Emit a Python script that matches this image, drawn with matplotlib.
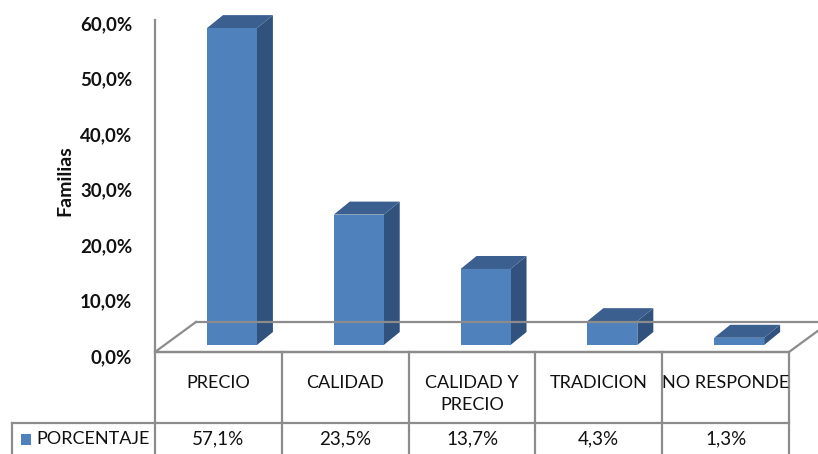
import matplotlib.pyplot as plt
from matplotlib.patches import Polygon, Rectangle

categories = ["PRECIO", "CALIDAD", "CALIDAD Y\nPRECIO", "TRADICION", "NO RESPONDE"]
values = [57.1, 23.5, 13.7, 4.3, 1.3]
value_labels = ["57,1%", "23,5%", "13,7%", "4,3%", "1,3%"]
series_name = "PORCENTAJE"
y_ticks = [0, 10, 20, 30, 40, 50, 60]

plt.rcParams['font.family'] = ['Lato', 'DejaVu Sans']

FRONT = "#4f81bd"
SIDE = "#31527d"
TOP = "#3b5f8e"
GRID = "#8c8c8c"
TEXT = "#111111"

fig = plt.figure(figsize=(8.18, 4.54), dpi=100)
ax = fig.add_axes([0.18949, 0.21586, 0.77506, 0.74570])
ax.set_xlim(0, 5)
ax.set_ylim(0, 61)

# value axis
for s in ["top", "right", "bottom"]:
    ax.spines[s].set_visible(False)
ax.spines["left"].set_color(GRID)
ax.spines["left"].set_linewidth(1.6)
ax.spines["left"].set_bounds(0.72, 60.54)
ax.set_xticks([])
ax.set_yticks(y_ticks)
ax.set_yticklabels([f"{t:.1f}%".replace(".", ",") for t in y_ticks],
                   fontsize=13.5, fontweight="bold", color=TEXT)
ax.tick_params(axis="y", length=0, pad=16.5)
ax.set_ylabel("Familias", fontsize=14, fontweight="bold", color=TEXT)
ax.yaxis.set_label_coords(-0.128, 0.517)

# floor of the 3D plot
floor_y = 0.72
floor_dx, floor_dy = 0.323, 5.41
back_y = floor_y + floor_dy
ax.plot([floor_dx, 0, 5.0, 5.0 + floor_dx * 1.5],
        [back_y, floor_y, floor_y, floor_y + floor_dy * 1.5],
        color=GRID, linewidth=1.6, clip_on=False)
ax.plot([floor_dx, 5.6], [back_y, back_y], color=GRID, linewidth=1.6, clip_on=False)

# 3D bars: right side, top, front face
bar_w = 0.394
bar_off = 0.41
base = 1.98
bdx, bdy = 0.126, 2.34
for i, v in enumerate(values):
    x0 = i + bar_off
    x1 = x0 + bar_w
    y1 = base + v
    ax.add_patch(Polygon([(x1, base), (x1 + bdx, base + bdy), (x1 + bdx, y1 + bdy), (x1, y1)],
                         facecolor=SIDE, edgecolor="none", clip_on=False))
    ax.add_patch(Polygon([(x0, y1), (x1, y1), (x1 + bdx, y1 + bdy), (x0 + bdx, y1 + bdy)],
                         facecolor=TOP, edgecolor="none", clip_on=False))
    ax.add_patch(Rectangle((x0, base), bar_w, v, facecolor=FRONT,
                           edgecolor="none", clip_on=False))

# data table under the plot (y in pixels below the floor)
tab = fig.add_axes([0.18949, 0.0, 0.77506, 102 / 454])
tab.set_xlim(0, 5)
tab.set_ylim(102, 0)
tab.axis("off")
lw = 1.6
for c in range(6):
    tab.plot([c, c], [0, 110], color=GRID, linewidth=lw, clip_on=False)
tab.plot([0, 5], [0, 0], color=GRID, linewidth=lw, clip_on=False)
tab.plot([-1.128, 5], [71, 71], color=GRID, linewidth=lw, clip_on=False)
tab.plot([-1.128, -1.128], [71, 110], color=GRID, linewidth=lw, clip_on=False)

for i, (cat, lab) in enumerate(zip(categories, value_labels)):
    tab.text(i + 0.5, 23, cat, ha="center", va="top", fontsize=13,
             color=TEXT, linespacing=1.45, clip_on=False)
    tab.text(i + 0.5, 87, lab, ha="center", va="center", fontsize=13.5,
             color=TEXT, clip_on=False)

tab.add_patch(Rectangle((-1.057, 82), 0.079, 11, facecolor=FRONT,
                        edgecolor="none", clip_on=False))
tab.text(-0.938, 87, series_name, ha="left", va="center", fontsize=13,
         color=TEXT, clip_on=False)

fig.savefig("out.png", dpi=100)
